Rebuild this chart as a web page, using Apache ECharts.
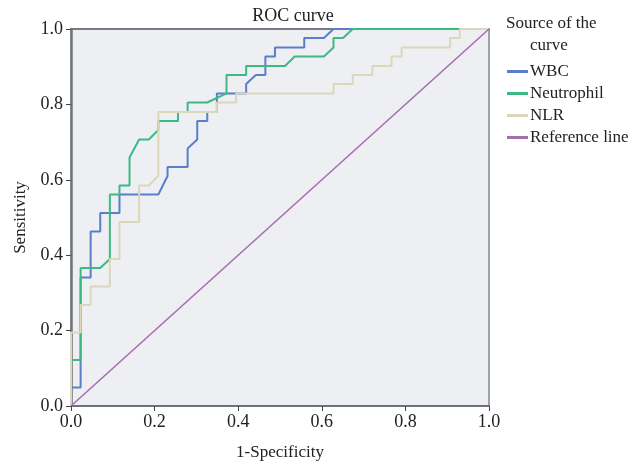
<!DOCTYPE html>
<html>
<head>
<meta charset="utf-8">
<script src="https://cdn.jsdelivr.net/npm/echarts@6/dist/echarts.min.js"></script>
<style>html,body{margin:0;padding:0;background:#fff}#c{width:642px;height:466px}</style>
</head>
<body>
<div id="c"></div>
<script>
var seriesNames = ['WBC', 'Neutrophil', 'NLR', 'Reference line'];
var tickLabels = ['0.0', '0.2', '0.4', '0.6', '0.8', '1.0'];

var wbcX = [0, 0, 0.023, 0.023, 0.047, 0.047, 0.070, 0.070, 0.116, 0.116, 0.209, 0.231, 0.231, 0.279, 0.279, 0.302, 0.302, 0.326, 0.326, 0.349, 0.349, 0.419, 0.419, 0.442, 0.465, 0.465, 0.488, 0.488, 0.558, 0.558, 0.605, 0.628, 1];
var wbcY = [0, 0.049, 0.049, 0.341, 0.341, 0.463, 0.463, 0.512, 0.512, 0.561, 0.561, 0.610, 0.634, 0.634, 0.683, 0.707, 0.756, 0.756, 0.780, 0.780, 0.829, 0.829, 0.854, 0.878, 0.878, 0.927, 0.927, 0.951, 0.951, 0.976, 0.976, 1, 1];

var neuX = [0, 0, 0.023, 0.023, 0.070, 0.093, 0.093, 0.116, 0.116, 0.140, 0.140, 0.163, 0.186, 0.209, 0.209, 0.256, 0.256, 0.279, 0.279, 0.326, 0.372, 0.372, 0.419, 0.419, 0.512, 0.535, 0.605, 0.628, 0.628, 0.651, 0.674, 1];
var neuY = [0, 0.122, 0.122, 0.366, 0.366, 0.390, 0.561, 0.561, 0.585, 0.585, 0.659, 0.707, 0.707, 0.732, 0.756, 0.756, 0.780, 0.780, 0.805, 0.805, 0.829, 0.878, 0.878, 0.902, 0.902, 0.927, 0.927, 0.951, 0.976, 0.976, 1, 1];

var nlrX = [0, 0, 0.023, 0.023, 0.047, 0.047, 0.093, 0.093, 0.116, 0.116, 0.163, 0.163, 0.186, 0.209, 0.209, 0.349, 0.349, 0.395, 0.395, 0.628, 0.628, 0.674, 0.674, 0.721, 0.721, 0.767, 0.767, 0.791, 0.791, 0.907, 0.907, 0.930, 0.930, 1];
var nlrY = [0, 0.195, 0.195, 0.268, 0.268, 0.317, 0.317, 0.390, 0.390, 0.488, 0.488, 0.585, 0.585, 0.610, 0.780, 0.780, 0.805, 0.805, 0.829, 0.829, 0.854, 0.854, 0.878, 0.878, 0.902, 0.902, 0.927, 0.927, 0.951, 0.951, 0.976, 0.976, 1, 1];

var refX = [0, 1];
var refY = [0, 1];

var colors = ['#5a7fc8', '#3dba84', '#dcd7bb', '#a56fae'];

function zip(xs, ys) { return xs.map(function (x, i) { return [x, ys[i]]; }); }

var serif = '"Liberation Serif", "DejaVu Serif", serif';
var chart = echarts.init(document.getElementById('c'), null, {renderer: 'canvas'});
var datasets = [zip(wbcX, wbcY), zip(neuX, neuY), zip(nlrX, nlrY), zip(refX, refY)];
var fmt = function (v) { return tickLabels[Math.round(v * 5)]; };

chart.setOption({
  animation: false,
  color: colors,
  title: {
    text: 'ROC curve', left: 288, top: 2, textAlign: 'center',
    textStyle: {fontFamily: serif, fontSize: 18, fontWeight: 'normal', color: '#222'}
  },
  grid: {
    left: 71, right: 153, top: 29, bottom: 58, show: true,
    backgroundColor: '#edeff2', borderColor: '#9aa0a6', borderWidth: 1
  },
  legend: {
    orient: 'vertical', left: 502, top: 58, itemWidth: 21, itemHeight: 3, itemGap: 5,
    icon: 'rect', data: seriesNames,
    textStyle: {fontFamily: serif, fontSize: 17, color: '#222', padding: [0, 0, 0, -3]}
  },
  graphic: [
    {type: 'text', left: 506, top: 15, style: {text: 'Source of the', font: '17px ' + serif, fill: '#222'}},
    {type: 'text', left: 530, top: 37, style: {text: 'curve', font: '17px ' + serif, fill: '#222'}}
  ],
  xAxis: [{
    type: 'value', min: 0, max: 1, interval: 0.2, position: 'bottom',
    name: '1-Specificity', nameLocation: 'middle', nameGap: 38,
    nameTextStyle: {fontFamily: serif, fontSize: 17, color: '#222'},
    axisLine: {show: true, onZero: false, lineStyle: {color: '#6c737a', width: 2}},
    axisTick: {show: true, length: 5, lineStyle: {color: '#444'}},
    axisLabel: {fontFamily: serif, fontSize: 18, color: '#222', margin: 7, formatter: fmt},
    splitLine: {show: false}
  }, {
    type: 'value', min: 0, max: 1, interval: 0.2, position: 'top',
    axisLine: {show: true, onZero: false, lineStyle: {color: '#737a81', width: 2}},
    axisTick: {show: false}, axisLabel: {show: false}, splitLine: {show: false}
  }],
  yAxis: [{
    type: 'value', min: 0, max: 1, interval: 0.2, position: 'left',
    name: 'Sensitivity', nameLocation: 'middle', nameGap: 42,
    nameTextStyle: {fontFamily: serif, fontSize: 17, color: '#222'},
    axisLine: {show: true, onZero: false, lineStyle: {color: '#6c737a', width: 2.5}},
    axisTick: {show: true, length: 5, lineStyle: {color: '#444'}},
    axisLabel: {fontFamily: serif, fontSize: 18, color: '#222', margin: 8, formatter: fmt},
    splitLine: {show: false}
  }, {
    type: 'value', min: 0, max: 1, interval: 0.2, position: 'right',
    axisLine: {show: true, onZero: false, lineStyle: {color: '#8e949a', width: 1.5}},
    axisTick: {show: false}, axisLabel: {show: false}, splitLine: {show: false}
  }],
  series: seriesNames.map(function (n, i) {
    return {
      name: n, type: 'line', data: datasets[i], showSymbol: false, symbol: 'none',
      lineStyle: {width: i === 3 ? 1.6 : 2, color: colors[i]}, z: 2
    };
  })
});
</script>
</body>
</html>
